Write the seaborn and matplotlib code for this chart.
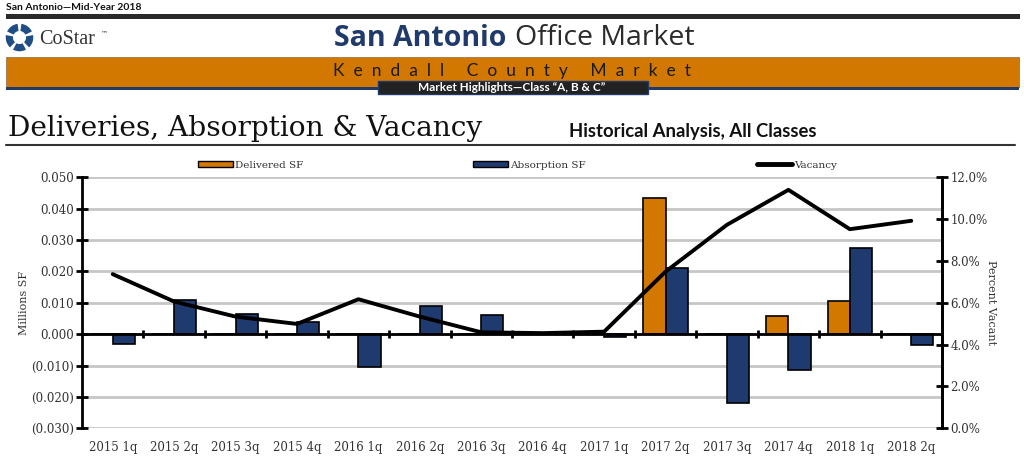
import numpy as np
import pandas as pd
import seaborn as sns
import matplotlib.pyplot as plt
from matplotlib.patches import Patch, Rectangle, Wedge
from matplotlib.lines import Line2D
from matplotlib.ticker import FuncFormatter

# Chart values
quarters = ['2015 1q', '2015 2q', '2015 3q', '2015 4q', '2016 1q', '2016 2q', '2016 3q',
            '2016 4q', '2017 1q', '2017 2q', '2017 3q', '2017 4q', '2018 1q', '2018 2q']
delivered = [0, 0, 0, 0, 0, 0, 0, 0, 0, 0.0433, 0, 0.0057, 0.0107, 0]
absorption = [-0.0032, 0.0109, 0.0064, 0.0038, -0.0106, 0.0091, 0.0062, 0,
              -0.0010, 0.0212, -0.0218, -0.0113, 0.0274, -0.0035]
vacancy = [7.37, 6.06, 5.34, 4.99, 6.17, 5.34, 4.59, 4.55, 4.62, 7.49, 9.73, 11.40, 9.52, 9.92]
left_ticks = [-0.03, -0.02, -0.01, 0.0, 0.01, 0.02, 0.03, 0.04, 0.05]
right_ticks = [0, 2, 4, 6, 8, 10, 12]

ORANGE = '#D27800'
NAVY = '#1F3A6E'

df = pd.DataFrame({
    'quarter': quarters * 2,
    'series': ['Delivered SF'] * len(quarters) + ['Absorption SF'] * len(quarters),
    'value': delivered + absorption,
})

sns.set_style('white')
plt.rcParams['font.family'] = ['DejaVu Serif']

fig = plt.figure(figsize=(10.24, 4.68), dpi=100)
W, H = 1024, 468


def fx(px):
    return px / W


def fy(py):
    return 1 - py / H


# ---- page header ----
fig.text(fx(6), fy(7), 'San Antonio\u2014Mid-Year 2018', fontsize=7.5, fontweight='bold',
         family='Lato', va='center', ha='left', color='#111111')
fig.add_artist(Rectangle((fx(6), fy(19)), fx(1014), 5 / H, transform=fig.transFigure,
                         facecolor='#2a2a2a', edgecolor='none'))

# CoStar logo
logo = fig.add_axes([fx(5), fy(52), fx(29), 29 / H])
logo.set_xlim(-1, 1)
logo.set_ylim(-1, 1)
logo.axis('off')
for k in range(5):
    start = 90 + k * 72 + 8
    logo.add_patch(Wedge((0, 0), 0.95, start, start + 56, width=0.5, facecolor='#1F4E85',
                         edgecolor='none'))
fig.text(fx(39), fy(39), 'CoStar', fontsize=14.5, family='Liberation Serif', va='center',
         ha='left', color='#333333')
fig.text(fx(101), fy(33), '\u2122', fontsize=5, family='DejaVu Sans', va='center', ha='left',
         color='#333333')

fig.text(fx(506), fy(38), 'San Antonio', fontsize=20.5, fontweight='bold', family='Open Sans',
         color='#1F3A6B', ha='right', va='center')
fig.text(fx(515), fy(38), 'Office Market', fontsize=20.5, family='Open Sans', color='#2b2b2b',
         ha='left', va='center')

# orange band
fig.add_artist(Rectangle((fx(6), fy(87)), fx(1013), 30 / H, transform=fig.transFigure,
                         facecolor=ORANGE, edgecolor='#9a7a50', lw=0.6))
fig.add_artist(Rectangle((fx(6), fy(89.5)), fx(1013), 2.5 / H, transform=fig.transFigure,
                         facecolor='#1F3A6B', edgecolor='none'))
spaced = '     '.join('  '.join(w) for w in ['Kendall', 'County', 'Market'])
fig.text(fx(512), fy(71), spaced, fontsize=12.5, family='Lato', color='#1a1a1a',
         ha='center', va='center')
fig.add_artist(Rectangle((fx(378), fy(94)), fx(270), 13 / H, transform=fig.transFigure,
                         facecolor='#222222', edgecolor='#1F3A6B', lw=1))
fig.text(fx(512), fy(87.5), 'Market Highlights\u2014Class \u201cA, B & C\u201d', fontsize=8.5,
         fontweight='bold', family='Lato', color='white', ha='center', va='center')

# section title
fig.text(fx(8), fy(136), 'Deliveries, Absorption & Vacancy', fontsize=20.2,
         family='DejaVu Serif', color='#111111', ha='left', va='baseline')
fig.text(fx(569), fy(137), 'Historical Analysis, All Classes', fontsize=13.3,
         fontweight='bold', family='Lato', color='#111111', ha='left', va='baseline')
fig.add_artist(Line2D([fx(6), fx(1015)], [fy(145), fy(145)], transform=fig.transFigure,
                      color='#333333', lw=1.5))

# ---- chart ----
ax = fig.add_axes([fx(82), 1 - 428.3 / H, fx(860), 251 / H])
sns.barplot(data=df, x='quarter', y='value', hue='series',
            hue_order=['Delivered SF', 'Absorption SF'], palette=[ORANGE, NAVY],
            saturation=1, width=0.72, edgecolor='black', linewidth=1.2, ax=ax, legend=False)
ax.set_xlim(-0.5, len(quarters) - 0.5)
ax.set_ylim(-0.03, 0.05)
ax.set_yticks(left_ticks)
ax.yaxis.set_major_formatter(FuncFormatter(
    lambda v, p: f'{v:.3f}' if v >= -1e-9 else f'({abs(v):.3f})'))
ax.set_axisbelow(True)
ax.grid(axis='y', color='#c6c6c6', lw=2)
ax.grid(axis='x', visible=False)
for s in ['top', 'bottom']:
    ax.spines[s].set_visible(False)
for s in ['left', 'right']:
    ax.spines[s].set_color('black')
    ax.spines[s].set_linewidth(2)
ax.tick_params(axis='y', direction='inout', length=8, width=2, color='black',
               labelsize=8.5, labelcolor='#333333', pad=2, left=True)
ax.tick_params(axis='x', length=0, labelsize=8.5, labelcolor='#333333', pad=9)
ax.set_xlabel('')
ax.set_ylabel('Millions SF', fontsize=8, color='#333333', labelpad=1)

# zero line with category dividers
ax.axhline(0, color='black', lw=2, zorder=3)
ax.vlines(np.arange(0.5, len(quarters) - 1), -0.0012, 0.0012, color='black', lw=2, zorder=3)

ax2 = ax.twinx()
sns.lineplot(x=np.arange(len(quarters)), y=vacancy, color='black', lw=2.8, ax=ax2)
ax2.set_ylim(0, 12)
ax2.set_yticks(right_ticks)
ax2.yaxis.set_major_formatter(FuncFormatter(lambda v, p: f'{v:.1f}%'))
ax2.tick_params(axis='y', direction='inout', length=8, width=2, color='black',
                labelsize=8.5, labelcolor='#333333', pad=2, right=True)
ax2.set_ylabel('Percent Vacant', rotation=270, fontsize=8, color='#333333', labelpad=6)
ax2.grid(False)
for s in ['top', 'bottom', 'left']:
    ax2.spines[s].set_visible(False)
ax2.spines['right'].set_linewidth(2)
ax2.spines['right'].set_color('black')
ax2.set_xlim(-0.5, len(quarters) - 0.5)

# legend, three separate entries spread across the top
leg_items = [
    (Patch(facecolor=ORANGE, edgecolor='black', lw=1), 'Delivered SF', 198),
    (Patch(facecolor=NAVY, edgecolor='black', lw=1), 'Absorption SF', 473),
    (Line2D([], [], color='black', lw=3.5, solid_capstyle='round'), 'Vacancy', 757),
]
for handle, label, x0 in leg_items:
    fig.legend([handle], [label], loc='center left', bbox_to_anchor=(fx(x0), fy(165)),
               frameon=False, fontsize=7.5, handlelength=3.4, handleheight=0.6,
               handletextpad=0.15, borderpad=0, borderaxespad=0,
               labelcolor='#333333')

fig.savefig('out.png', dpi=100)
